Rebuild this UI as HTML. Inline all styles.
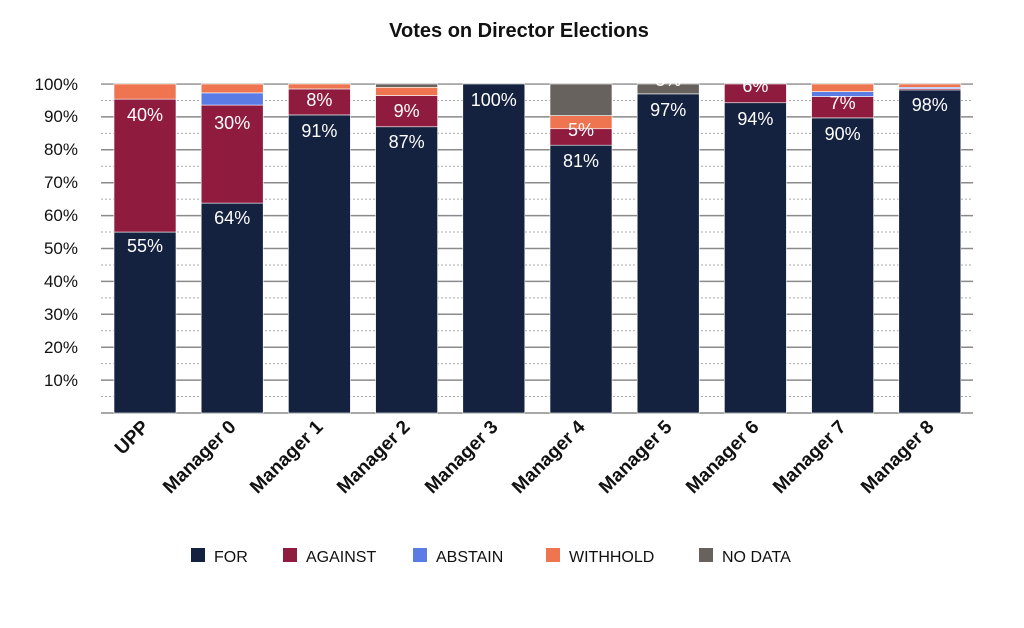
<!DOCTYPE html>
<html><head><meta charset="utf-8"><style>body{margin:0;background:#fff}</style></head><body>
<svg width="1024" height="623" xmlns="http://www.w3.org/2000/svg" font-family="Liberation Sans, sans-serif">
<g stroke="#8a8a8a" stroke-width="1.5">
<line x1="101" x2="973" y1="413" y2="413"/><line x1="101" x2="973" y1="380.1" y2="380.1"/><line x1="101" x2="973" y1="347.2" y2="347.2"/><line x1="101" x2="973" y1="314.3" y2="314.3"/><line x1="101" x2="973" y1="281.4" y2="281.4"/><line x1="101" x2="973" y1="248.5" y2="248.5"/><line x1="101" x2="973" y1="215.6" y2="215.6"/><line x1="101" x2="973" y1="182.7" y2="182.7"/><line x1="101" x2="973" y1="149.8" y2="149.8"/><line x1="101" x2="973" y1="116.9" y2="116.9"/><line x1="101" x2="973" y1="84" y2="84"/>
</g>
<g stroke="#aaa" stroke-width="1" stroke-dasharray="2,2">
<line x1="101" x2="973" y1="396.55" y2="396.55"/><line x1="101" x2="973" y1="363.65" y2="363.65"/><line x1="101" x2="973" y1="330.75" y2="330.75"/><line x1="101" x2="973" y1="297.85" y2="297.85"/><line x1="101" x2="973" y1="264.95" y2="264.95"/><line x1="101" x2="973" y1="232.05" y2="232.05"/><line x1="101" x2="973" y1="199.15" y2="199.15"/><line x1="101" x2="973" y1="166.25" y2="166.25"/><line x1="101" x2="973" y1="133.35" y2="133.35"/><line x1="101" x2="973" y1="100.45" y2="100.45"/>
</g>
<g stroke="#fff" stroke-width="0.6">
<rect x="114" y="232.05" width="62" height="180.95" fill="#14213f"/><rect x="114" y="99.13" width="62" height="132.92" fill="#8f1c3e"/><rect x="114" y="84" width="62" height="15.13" fill="#ee7550"/>
<rect x="201.2" y="203.1" width="62" height="209.9" fill="#14213f"/><rect x="201.2" y="105.06" width="62" height="98.04" fill="#8f1c3e"/><rect x="201.2" y="92.88" width="62" height="12.18" fill="#5b7be5"/><rect x="201.2" y="84" width="62" height="8.88" fill="#ee7550"/>
<rect x="288.4" y="114.93" width="62" height="298.07" fill="#14213f"/><rect x="288.4" y="88.94" width="62" height="25.99" fill="#8f1c3e"/><rect x="288.4" y="84" width="62" height="4.94" fill="#ee7550"/>
<rect x="375.6" y="126.77" width="62" height="286.23" fill="#14213f"/><rect x="375.6" y="95.52" width="62" height="31.25" fill="#8f1c3e"/><rect x="375.6" y="87.29" width="62" height="8.23" fill="#ee7550"/><rect x="375.6" y="84" width="62" height="3.29" fill="#67625e"/>
<rect x="462.8" y="84" width="62" height="329" fill="#14213f"/>
<rect x="550" y="145.2" width="62" height="267.8" fill="#14213f"/><rect x="550" y="128.74" width="62" height="16.46" fill="#8f1c3e"/><rect x="550" y="115.58" width="62" height="13.16" fill="#ee7550"/><rect x="550" y="84" width="62" height="31.58" fill="#67625e"/>
<rect x="637.2" y="93.87" width="62" height="319.13" fill="#14213f"/><rect x="637.2" y="84" width="62" height="9.87" fill="#67625e"/>
<rect x="724.4" y="102.75" width="62" height="310.25" fill="#14213f"/><rect x="724.4" y="84" width="62" height="18.75" fill="#8f1c3e"/>
<rect x="811.6" y="117.89" width="62" height="295.11" fill="#14213f"/><rect x="811.6" y="96.5" width="62" height="21.39" fill="#8f1c3e"/><rect x="811.6" y="91.57" width="62" height="4.93" fill="#5b7be5"/><rect x="811.6" y="84" width="62" height="7.57" fill="#ee7550"/>
<rect x="898.8" y="89.92" width="62" height="323.08" fill="#14213f"/><rect x="898.8" y="88.6" width="62" height="1.32" fill="#8f1c3e"/><rect x="898.8" y="87.29" width="62" height="1.31" fill="#5b7be5"/><rect x="898.8" y="84" width="62" height="3.29" fill="#ee7550"/>
</g>
<g font-size="18" fill="#fff" text-anchor="middle">
<text x="145" y="252">55%</text><text x="145" y="121">40%</text>
<text x="232.2" y="224">64%</text><text x="232.2" y="129">30%</text>
<text x="319.4" y="137">91%</text><text x="319.4" y="106">8%</text>
<text x="406.6" y="148">87%</text><text x="406.6" y="117">9%</text>
<text x="493.8" y="106">100%</text>
<text x="581" y="167">81%</text><text x="581" y="136">5%</text>
<text x="668.2" y="116">97%</text><text x="668.2" y="86">3%</text>
<text x="755.4" y="125">94%</text><text x="755.4" y="92">6%</text>
<text x="842.6" y="140">90%</text><text x="842.6" y="109">7%</text>
<text x="929.8" y="111">98%</text>
</g>
<rect x="0" y="50" width="1024" height="33.3" fill="#fff"/>
<text x="519" y="37" text-anchor="middle" font-size="20" font-weight="bold" fill="#111">Votes on Director Elections</text>
<g font-size="17" fill="#111" text-anchor="end">
<text x="78" y="386">10%</text><text x="78" y="353">20%</text><text x="78" y="320">30%</text><text x="78" y="287">40%</text><text x="78" y="254">50%</text><text x="78" y="221">60%</text><text x="78" y="188">70%</text><text x="78" y="155">80%</text><text x="78" y="122">90%</text><text x="78" y="90">100%</text>
</g>
<g font-size="19" font-weight="bold" fill="#111" text-anchor="end">
<text transform="translate(150,428) rotate(-45)">UPP</text>
<text transform="translate(237,428) rotate(-45)">Manager 0</text>
<text transform="translate(324,428) rotate(-45)">Manager 1</text>
<text transform="translate(411,428) rotate(-45)">Manager 2</text>
<text transform="translate(499,428) rotate(-45)">Manager 3</text>
<text transform="translate(586,428) rotate(-45)">Manager 4</text>
<text transform="translate(673,428) rotate(-45)">Manager 5</text>
<text transform="translate(760,428) rotate(-45)">Manager 6</text>
<text transform="translate(847,428) rotate(-45)">Manager 7</text>
<text transform="translate(935,428) rotate(-45)">Manager 8</text>
</g>
<g font-size="16" fill="#111">
<rect x="191" y="548" width="14" height="14" fill="#14213f"/><text x="214" y="562">FOR</text>
<rect x="283" y="548" width="14" height="14" fill="#8f1c3e"/><text x="306" y="562">AGAINST</text>
<rect x="413" y="548" width="14" height="14" fill="#5b7be5"/><text x="436" y="562">ABSTAIN</text>
<rect x="546" y="548" width="14" height="14" fill="#ee7550"/><text x="569" y="562">WITHHOLD</text>
<rect x="699" y="548" width="14" height="14" fill="#67625e"/><text x="722" y="562">NO DATA</text>
</g>
</svg>
</body></html>
